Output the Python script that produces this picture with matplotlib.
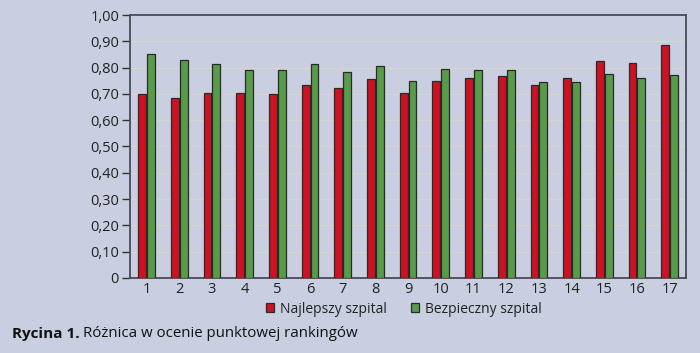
import matplotlib
matplotlib.use("Agg")
import matplotlib.pyplot as plt
import numpy as np

plt.rcParams['font.family'] = ['Open Sans', 'DejaVu Sans']

categories = [str(i) for i in range(1, 18)]
najlepszy = [0.70, 0.683, 0.705, 0.705, 0.70, 0.734, 0.722, 0.758, 0.705,
             0.750, 0.760, 0.768, 0.734, 0.762, 0.825, 0.817, 0.886]
bezpieczny = [0.852, 0.830, 0.815, 0.792, 0.792, 0.812, 0.784, 0.805, 0.749,
              0.795, 0.791, 0.792, 0.745, 0.745, 0.776, 0.762, 0.771]
yticks = [0, 0.1, 0.2, 0.3, 0.4, 0.5, 0.6, 0.7, 0.8, 0.9, 1.0]
ylabels = ['0', '0,10', '0,20', '0,30', '0,40', '0,50', '0,60', '0,70', '0,80', '0,90', '1,00']

bg = '#c9cee0'
red = '#cc1223'
green = '#589c4a'

fig = plt.figure(figsize=(7, 3.53), dpi=100, facecolor=bg)
ax = fig.add_axes([0.186, 0.2125, 0.794, 0.745], facecolor=bg)

x = np.arange(1, len(categories) + 1)
w = 0.24
ax.bar(x - 0.135, najlepszy, w, color=red, edgecolor='#2a2a2a', linewidth=0.9,
       label='Najlepszy szpital', zorder=3)
ax.bar(x + 0.135, bezpieczny, w, color=green, edgecolor='#2a2a2a', linewidth=0.9,
       label='Bezpieczny szpital', zorder=3)

ax.set_xlim(0.5, 17.5)
ax.set_ylim(0, 1.0)
ax.set_yticks(yticks)
ax.set_yticklabels(ylabels)
ax.set_xticks(x)
ax.set_xticklabels(categories)
ax.tick_params(axis='y', length=6, width=1, color='#333333', labelsize=10.5, pad=2,
               labelcolor='#222222')
ax.tick_params(axis='x', length=0, labelsize=10.5, pad=3, labelcolor='#222222')
ax.yaxis.grid(True, color='#d9d5cc', linewidth=0.9, zorder=0)
for s in ax.spines.values():
    s.set_color('#4a4a55')
    s.set_linewidth(1.3)

leg = fig.legend(loc='center', bbox_to_anchor=(0.577, 0.124), ncol=2, frameon=False,
                 fontsize=10, handlelength=0.6, handleheight=0.6, handletextpad=0.45,
                 columnspacing=1.7)
for txt in leg.get_texts():
    txt.set_color('#222222')

t1 = fig.text(0.017, 0.055, 'Rycina 1.', fontsize=11, fontweight='bold', va='center',
              color='#111111')
r = fig.canvas.get_renderer()
bb = t1.get_window_extent(r)
fig.text(bb.x1 / fig.bbox.width + 0.005, 0.055, 'Różnica w ocenie punktowej rankingów',
         fontsize=10.8, va='center', color='#111111')

fig.savefig('out.png', dpi=100, facecolor=bg)
